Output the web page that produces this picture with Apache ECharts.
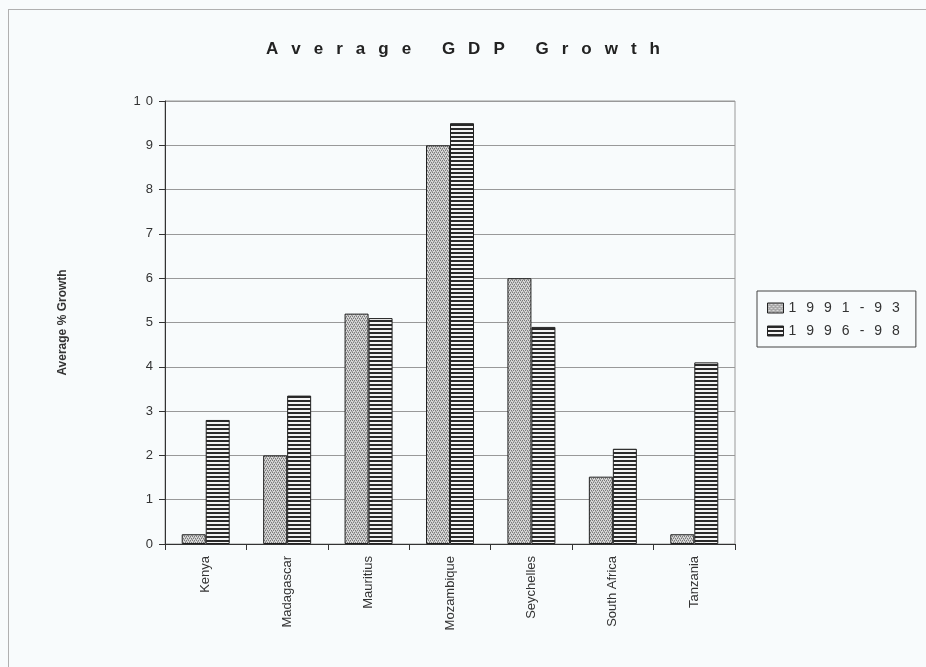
<!DOCTYPE html>
<html>
<head>
<meta charset="utf-8">
<style>
  html, body { margin: 0; padding: 0; background: #f8fbfc; }
  #chart { width: 926px; height: 667px; }
</style>
<script src="https://cdn.jsdelivr.net/npm/echarts@6/dist/echarts.min.js"></script>
</head>
<body>
<div id="chart"></div>
<script>
// ---- data ----
const titleText = 'Average GDP Growth';
const yAxisTitle = 'Average % Growth';
const categories = ['Kenya', 'Madagascar', 'Mauritius', 'Mozambique', 'Seychelles', 'South Africa', 'Tanzania'];
const seriesNames = ['1991-93', '1996-98'];
const growth9193 = [0.22, 2.0, 5.2, 9.0, 6.0, 1.52, 0.22];
const growth9698 = [2.8, 3.35, 5.1, 9.5, 4.9, 2.15, 4.1];
const yTicks = [0, 1, 2, 3, 4, 5, 6, 7, 8, 9, 10];

// letter-spaced rich text helper
function spaced(str, key) {
  return str.split('').map((c, i) => '{' + (i === 0 ? key + '0' : key) + '|' + c + '}').join('');
}

function makePattern(type) {
  const c = document.createElement('canvas');
  if (type === 'dots') {
    c.width = 4; c.height = 4;
    const g = c.getContext('2d');
    g.fillStyle = '#d8d8d8'; g.fillRect(0, 0, 4, 4);
    g.fillStyle = '#7a7a7a';
    g.fillRect(0, 0, 1, 1); g.fillRect(2, 0, 1, 1);
    g.fillRect(1, 2, 1, 1); g.fillRect(3, 2, 1, 1);
    g.fillStyle = '#a8a8a8';
    g.fillRect(1, 1, 1, 1); g.fillRect(3, 3, 1, 1);
    g.fillRect(0, 3, 1, 1); g.fillRect(2, 1, 1, 1);
  } else {
    c.width = 4; c.height = 4;
    const g = c.getContext('2d');
    g.fillStyle = '#f4f4f4'; g.fillRect(0, 0, 4, 4);
    g.fillStyle = '#2a2a2a'; g.fillRect(0, 0, 4, 2);
  }
  return { image: c, repeat: 'repeat' };
}

const chart = echarts.init(document.getElementById('chart'), null, { renderer: 'canvas' });
const FONT = '"Liberation Sans", Arial, sans-serif';

const option = {
  backgroundColor: '#f8fbfc',
  animation: false,
  title: {
    text: spaced(titleText, 't'),
    left: 'center',
    top: 36,
    textStyle: {
      fontFamily: FONT, fontSize: 17, fontWeight: 'bold', color: '#222',
      rich: {
        t0: { fontFamily: FONT, fontSize: 17, fontWeight: 'bold', color: '#222' },
        t: { fontFamily: FONT, fontSize: 17, fontWeight: 'bold', color: '#222', padding: [0, 0, 0, 13] }
      }
    }
  },
  legend: {
    orient: 'vertical',
    left: 757,
    top: 291,
    padding: [10, 16, 9, 10],
    itemGap: 9,
    itemWidth: 16,
    itemHeight: 10,
    icon: 'rect',
    borderColor: '#444',
    borderWidth: 1,
    itemStyle: { borderColor: '#222', borderWidth: 1 },
    formatter: name => spaced(name, 'l'),
    textStyle: {
      fontFamily: FONT, fontSize: 14, color: '#333',
      rich: {
        l0: { fontFamily: FONT, fontSize: 14, color: '#333' },
        l: { fontFamily: FONT, fontSize: 14, color: '#333', padding: [0, 0, 0, 10] }
      }
    },
    data: seriesNames
  },
  grid: {
    left: 165, right: 191, top: 101, bottom: 123,
    show: true, borderColor: '#999', borderWidth: 1, backgroundColor: 'transparent'
  },
  xAxis: {
    type: 'category',
    data: categories,
    axisLine: { lineStyle: { color: '#333', width: 1 } },
    axisTick: { show: true, alignWithLabel: false, interval: 0, length: 6, lineStyle: { color: '#333' } },
    axisLabel: {
      interval: 0, rotate: 90, margin: 12,
      fontFamily: FONT, fontSize: 13, color: '#333'
    },
    splitLine: { show: false }
  },
  yAxis: {
    type: 'value',
    min: yTicks[0],
    max: yTicks[yTicks.length - 1],
    interval: 1,
    name: yAxisTitle,
    nameLocation: 'middle',
    nameGap: 96,
    nameTextStyle: { fontFamily: FONT, fontSize: 12, fontWeight: 'bold', color: '#333' },
    axisLine: { show: true, lineStyle: { color: '#333', width: 1 } },
    axisTick: { show: true, length: 6, lineStyle: { color: '#333' } },
    axisLabel: {
      margin: 12,
      fontFamily: FONT, fontSize: 13, color: '#333',
      formatter: v => spaced(String(v), 'n'),
      rich: {
        n0: { fontFamily: FONT, fontSize: 13, color: '#333' },
        n: { fontFamily: FONT, fontSize: 13, color: '#333', padding: [0, 0, 0, 5] }
      }
    },
    splitLine: { show: true, lineStyle: { color: '#999', width: 1 } }
  },
  series: [
    {
      name: seriesNames[0],
      type: 'bar',
      data: growth9193,
      barWidth: 24,
      barGap: '0%',
      itemStyle: { color: makePattern('dots'), borderColor: '#222', borderWidth: 1 }
    },
    {
      name: seriesNames[1],
      type: 'bar',
      data: growth9698,
      barWidth: 24,
      barGap: '0%',
      itemStyle: { color: makePattern('stripes'), borderColor: '#222', borderWidth: 1 }
    }
  ],
  graphic: [
    { type: 'line', shape: { x1: 8, y1: 9.5, x2: 926, y2: 9.5 }, style: { stroke: '#b0b0b0', lineWidth: 1 }, silent: true },
    { type: 'line', shape: { x1: 8.5, y1: 9, x2: 8.5, y2: 667 }, style: { stroke: '#b0b0b0', lineWidth: 1 }, silent: true }
  ]
};

chart.setOption(option);
</script>
</body>
</html>
